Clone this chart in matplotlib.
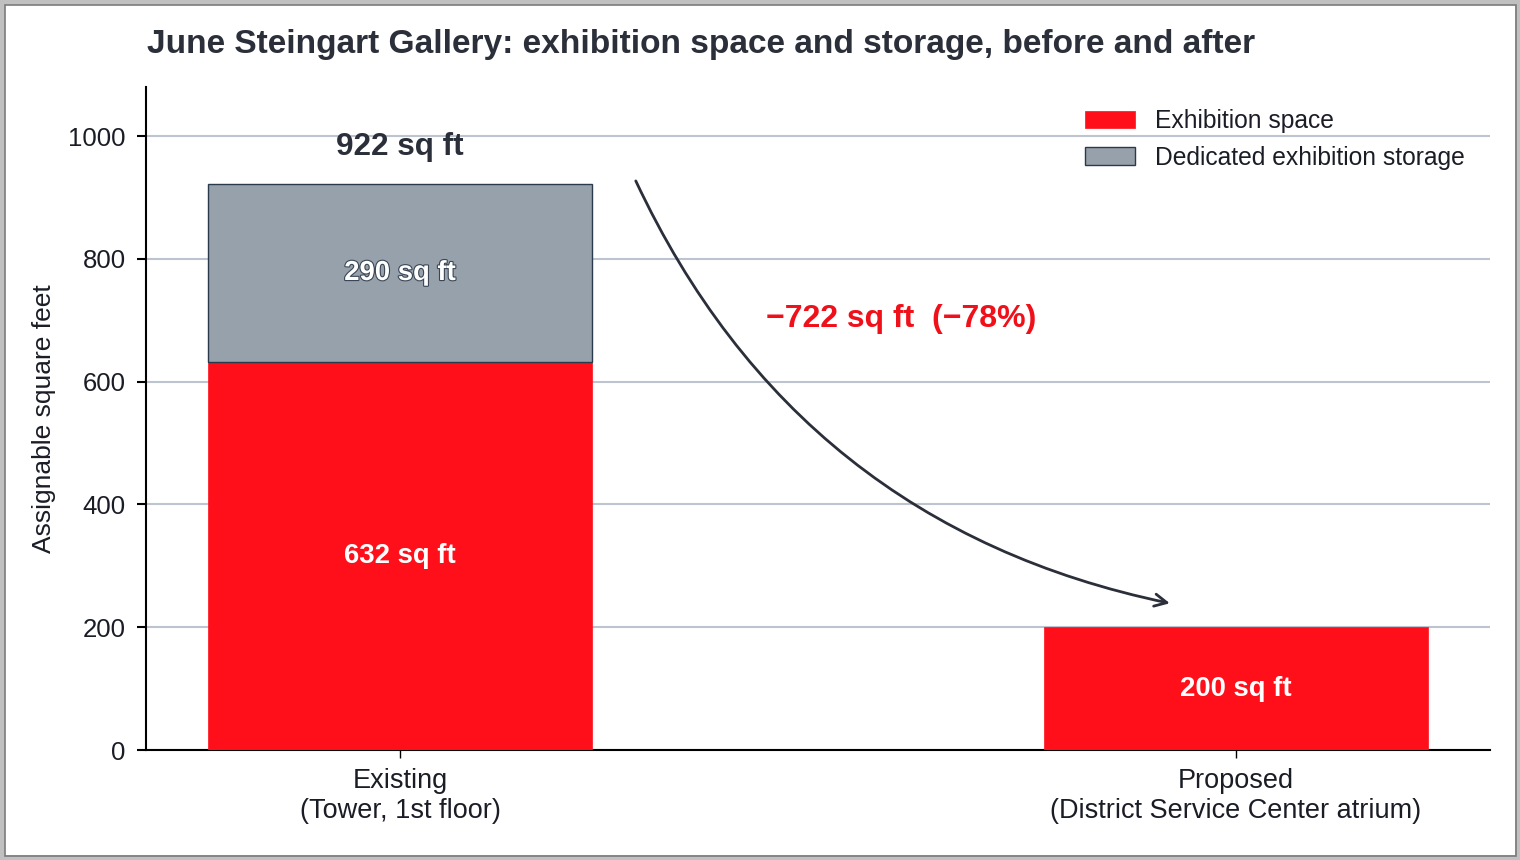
import matplotlib
matplotlib.use('Agg')
import matplotlib.pyplot as plt
import matplotlib.patheffects as pe

plt.rcParams['font.family'] = ['Liberation Sans', 'DejaVu Sans']

# data
categories = ['Existing\n(Tower, 1st floor)', 'Proposed\n(District Service Center atrium)']
exhibition = [632, 200]
storage = [290, 0]
totals = [e + s for e, s in zip(exhibition, storage)]
change_label = '\u2212722 sq ft  (\u221278%)'

RED = '#ff0f1a'
GREY = '#97a1ab'
DARK = '#2b2f3a'
GRID = '#bcc4d0'

fig = plt.figure(figsize=(15.2, 8.6), dpi=100)
fig.patch.set_facecolor('white')
ax = fig.add_axes([146 / 1520, 1 - 750 / 860, (1490 - 146) / 1520, (750 - 87) / 860])

x = list(range(len(categories)))
width = 0.46

ax.bar(x, exhibition, width, color=RED, edgecolor=RED, linewidth=0.5,
       label='Exhibition space', zorder=3)
ax.bar(x[:1], storage[:1], width, bottom=exhibition[:1], color=GREY,
       edgecolor='#2b3a4a', linewidth=1.0, label='Dedicated exhibition storage', zorder=3)

# value labels
for i in x:
    ax.text(i, exhibition[i] / 2, f'{exhibition[i]} sq ft', ha='center', va='center',
            color='white', fontsize=19.8, fontweight='bold', zorder=5)
ax.text(0, exhibition[0] + storage[0] / 2, f'{storage[0]} sq ft', ha='center', va='center',
        color='white', fontsize=19.8, fontweight='bold', zorder=5,
        path_effects=[pe.withStroke(linewidth=1.6, foreground='#3a4656')])
ax.text(0, totals[0] + 61, f'{totals[0]} sq ft', ha='center', va='center',
        color=DARK, fontsize=22.7, fontweight='bold', zorder=5)

# change arrow
ax.annotate('', xy=(0.921, 239), xytext=(0.282, 927),
            arrowprops=dict(arrowstyle='->', color=DARK, lw=2.0,
                            connectionstyle='arc3,rad=0.25',
                            shrinkA=0, shrinkB=0, mutation_scale=22),
            zorder=4)
ax.text(0.6, 702, change_label, ha='center', va='center', color='#f0101a',
        fontsize=23, fontweight='bold')

ax.set_xlim(-0.304, 1.304)
ax.set_ylim(0, 1080)
ax.set_yticks([0, 200, 400, 600, 800, 1000])
ax.set_xticks(x)
ax.set_xticklabels(categories, fontsize=19.5, color='#1a1d26', linespacing=1.2)
ax.tick_params(axis='y', labelsize=18.5, length=6.5, width=1.5, pad=8, colors='black')
ax.tick_params(axis='x', length=6, width=1, pad=7)
for lab in ax.get_yticklabels():
    lab.set_color('#1a1d26')

ax.yaxis.grid(True, color=GRID, linewidth=1.5, zorder=0)
ax.set_axisbelow(True)
for s in ['top', 'right']:
    ax.spines[s].set_visible(False)
for s in ['left', 'bottom']:
    ax.spines[s].set_linewidth(1.5)
    ax.spines[s].set_color('black')

ax.set_ylabel('Assignable square feet', fontsize=19, color='#1a1d26', labelpad=9)

leg = ax.legend(loc='upper right', frameon=False, fontsize=17.7,
                handlelength=2.03, handleheight=0.73, handletextpad=0.85,
                labelspacing=0.52, bbox_to_anchor=(0.998, 1.0))
for t in leg.get_texts():
    t.set_color('#1a1d26')

fig.text(147 / 1520, 1 - 45 / 860, 'June Steingart Gallery: exhibition space and storage, before and after',
         ha='left', va='center', fontsize=24.1, fontweight='bold', color=DARK)

# screenshot-like frame
fig.add_artist(plt.Rectangle((0, 0), 1, 1, transform=fig.transFigure, fill=False,
                             edgecolor='#c0c0c0', linewidth=7, zorder=10))
fig.add_artist(plt.Rectangle((4.5 / 1520, 4.5 / 860), 1 - 9 / 1520, 1 - 9 / 860,
                             transform=fig.transFigure, fill=False,
                             edgecolor='#7a7a7a', linewidth=1.2, zorder=10))

fig.savefig('out.png', dpi=100)
